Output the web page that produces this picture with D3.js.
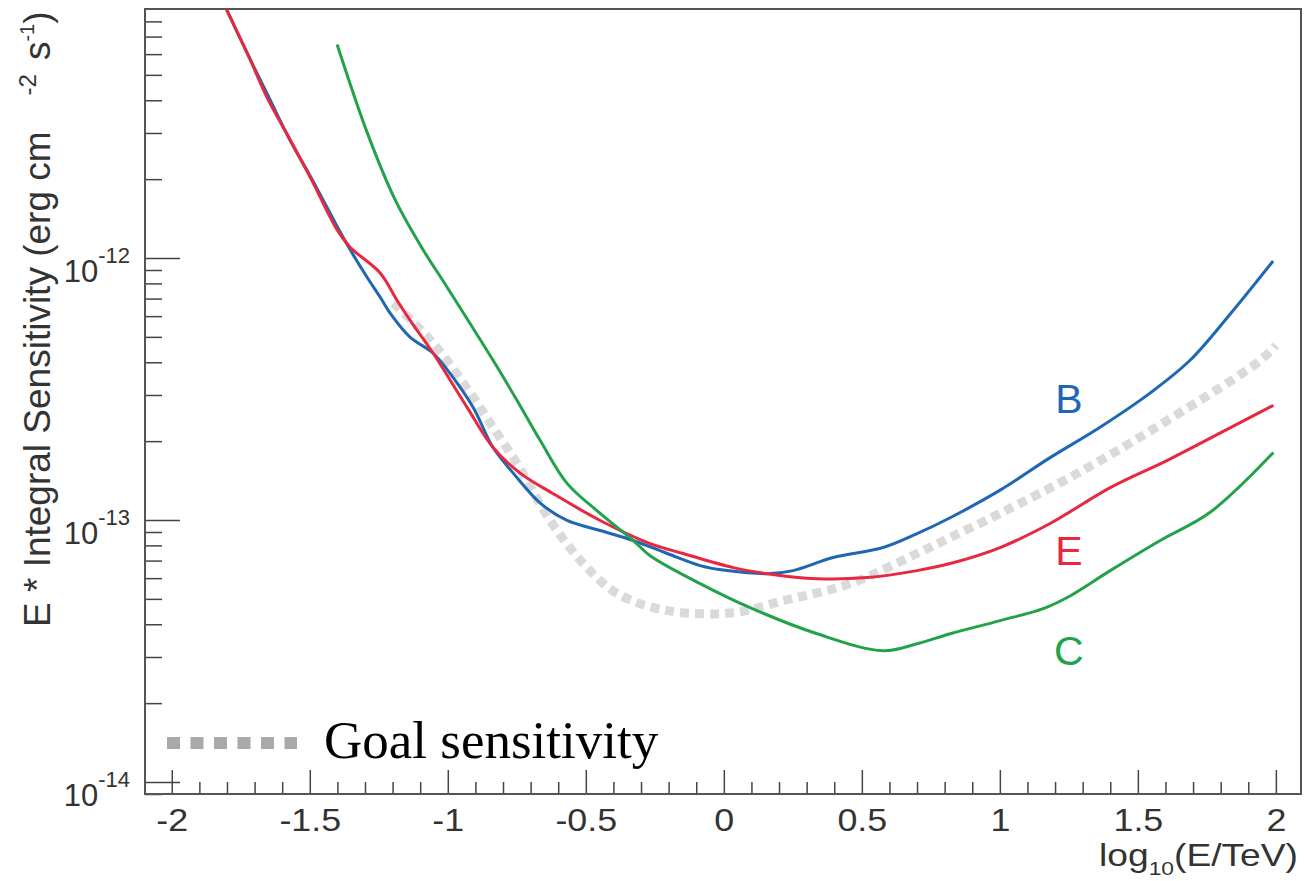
<!DOCTYPE html>
<html>
<head>
<meta charset="utf-8">
<script src="https://cdn.jsdelivr.net/npm/d3@7"></script>
<style>
body { margin: 0; background: #fff; }
svg { display: block; font-family: "Liberation Sans", Arial, Helvetica, sans-serif; }
</style>
</head>
<body>
<script>
// curve B (blue): log10(E/TeV) and E * integral sensitivity
var energyB = [-1.843, -1.803, -1.724, -1.644, -1.572, -1.492, -1.394, -1.343, -1.293, -1.238, -1.209, -1.137, -1.053, -0.992, -0.908, -0.836, -0.763, -0.665, -0.568, -0.448, -0.328, -0.205, -0.086, 0.012, 0.157, 0.251, 0.396, 0.577, 0.700, 0.820, 1.001, 1.182, 1.363, 1.544, 1.689, 1.834, 1.990];
var sensB = [1.11e-11, 8.95e-12, 5.97e-12, 4.02e-12, 2.82e-12, 2.00e-12, 1.28e-12, 1.03e-12, 8.46e-13, 6.90e-13, 6.16e-13, 4.99e-13, 4.33e-13, 3.63e-13, 2.69e-13, 1.89e-13, 1.51e-13, 1.16e-13, 9.96e-14, 9.12e-14, 8.35e-14, 7.45e-14, 6.70e-14, 6.41e-14, 6.24e-14, 6.41e-14, 7.19e-14, 7.85e-14, 8.87e-14, 1.02e-13, 1.30e-13, 1.73e-13, 2.26e-13, 3.05e-13, 4.07e-13, 6.10e-13, 9.74e-13];

// curve E (red)
var energyE = [-1.843, -1.803, -1.724, -1.651, -1.583, -1.495, -1.401, -1.354, -1.245, -1.184, -1.137, -1.053, -0.930, -0.836, -0.738, -0.618, -0.448, -0.267, -0.147, 0.034, 0.157, 0.338, 0.519, 0.700, 0.820, 1.001, 1.182, 1.400, 1.607, 1.799, 1.991];
var sensE = [1.11e-11, 8.95e-12, 5.97e-12, 4.02e-12, 2.98e-12, 2.00e-12, 1.28e-12, 1.10e-12, 8.77e-13, 6.90e-13, 5.79e-13, 4.33e-13, 2.69e-13, 1.89e-13, 1.51e-13, 1.26e-13, 9.96e-14, 8.13e-14, 7.45e-14, 6.58e-14, 6.24e-14, 5.97e-14, 6.03e-14, 6.41e-14, 6.82e-14, 7.85e-14, 9.70e-14, 1.33e-13, 1.69e-13, 2.15e-13, 2.74e-13];

// curve C (green)
var energyC = [-1.401, -1.292, -1.191, -1.093, -1.003, -0.836, -0.749, -0.665, -0.568, -0.448, -0.328, -0.267, -0.086, 0.095, 0.338, 0.577, 0.700, 0.820, 1.001, 1.157, 1.244, 1.400, 1.581, 1.762, 1.991];
var sensC = [6.53e-12, 3.01e-12, 1.67e-12, 1.09e-12, 7.75e-13, 4.07e-13, 2.86e-13, 2.01e-13, 1.38e-13, 1.06e-13, 8.35e-14, 7.31e-14, 5.72e-14, 4.63e-14, 3.68e-14, 3.17e-14, 3.37e-14, 3.68e-14, 4.13e-14, 4.59e-14, 5.06e-14, 6.41e-14, 8.35e-14, 1.07e-13, 1.81e-13];

// goal sensitivity (grey dotted)
var energyGoal = [-1.197, -1.053, -0.908, -0.846, -0.749, -0.629, -0.509, -0.386, -0.205, 0.034, 0.215, 0.458, 0.700, 0.820, 1.001, 1.302, 1.607, 1.944, 2.000];
var sensGoal = [6.73e-13, 4.73e-13, 2.94e-13, 2.34e-13, 1.64e-13, 9.96e-14, 6.82e-14, 5.24e-14, 4.51e-14, 4.43e-14, 4.92e-14, 5.72e-14, 7.45e-14, 8.57e-14, 1.06e-13, 1.55e-13, 2.40e-13, 4.07e-13, 4.65e-13];

// tick labels
var xMajorTicks = [-2, -1.5, -1, -0.5, 0, 0.5, 1, 1.5, 2];
var xTickLabels = ['-2', '-1.5', '-1', '-0.5', '0', '0.5', '1', '1.5', '2'];
var yMajorTicks = [1e-14, 1e-13, 1e-12];
var yTickExponents = ['-14', '-13', '-12'];
var curveNames = ['B', 'E', 'C'];
var legendText = 'Goal sensitivity';

var svgWidth = 1305;
var svgHeight = 881;
var plotLeft = 145, plotRight = 1301, plotTop = 9, plotBottom = 794;

var colorB = '#1f66b3', colorE = '#e8283f', colorC = '#22a34a';

var xScale = d3.scaleLinear()
    .domain([-2.097, 2.091])
    .range([plotLeft, plotRight]);

var yScale = d3.scaleLog()
    .domain([9.0e-15, 8.92e-12])
    .range([plotBottom, plotTop]);

var svg = d3.select('body').append('svg')
    .attr('width', svgWidth)
    .attr('height', svgHeight);

svg.append('defs').append('clipPath').attr('id', 'plotclip')
    .append('rect')
    .attr('x', plotLeft).attr('y', plotTop)
    .attr('width', plotRight - plotLeft).attr('height', plotBottom - plotTop);

// minor ticks every 0.1 on x, 2..9 per decade on y
var xMinor = d3.range(-20, 21).map(function(i) { return i / 10; })
    .filter(function(v) { return xMajorTicks.indexOf(v) < 0; });
var yMinor = [];
[1e-15, 1e-14, 1e-13, 1e-12].forEach(function(dec) {
    for (var k = 2; k <= 9; k++) {
        var v = k * dec;
        if (v > yScale.domain()[0] && v < yScale.domain()[1]) yMinor.push(v);
    }
});

var xAxisMinor = d3.axisBottom(xScale).tickValues(xMinor).tickSize(-12).tickSizeOuter(0).tickFormat('');
var xAxisMajor = d3.axisBottom(xScale).tickValues(xMajorTicks).tickSize(-24).tickSizeOuter(0).tickPadding(14)
    .tickFormat(function(d, i) { return xTickLabels[i]; });

var gxm = svg.append('g').attr('transform', 'translate(0,' + plotBottom + ')').call(xAxisMinor);
var gx = svg.append('g').attr('transform', 'translate(0,' + plotBottom + ')').call(xAxisMajor);

var yAxisMinor = d3.axisLeft(yScale).tickValues(yMinor).tickSize(-17).tickSizeOuter(0).tickFormat('');
var yAxisMajor = d3.axisLeft(yScale).tickValues(yMajorTicks).tickSize(-35).tickSizeOuter(0).tickPadding(15).tickFormat('');

var gym = svg.append('g').attr('transform', 'translate(' + plotLeft + ',0)').call(yAxisMinor);
var gy = svg.append('g').attr('transform', 'translate(' + plotLeft + ',0)').call(yAxisMajor);

[gxm, gx, gym, gy].forEach(function(g) {
    g.select('.domain').remove();
    g.selectAll('.tick line').attr('stroke', '#444').attr('stroke-width', 1.5);
});

gx.selectAll('.tick text')
    .attr('font-size', 32)
    .attr('fill', '#333')
    .attr('transform', 'scale(1.12,1)');

gy.selectAll('.tick text').each(function(d, i) {
    var t = d3.select(this);
    t.text(null).attr('dy', null).attr('y', 23)
        .attr('font-size', 31).attr('fill', '#333');
    t.append('tspan').text('10');
    t.append('tspan').attr('font-size', 22).attr('dy', -19).text(yTickExponents[i]);
});

// frame
svg.append('rect')
    .attr('x', plotLeft).attr('y', plotTop)
    .attr('width', plotRight - plotLeft).attr('height', plotBottom - plotTop)
    .attr('fill', 'none').attr('stroke', '#555').attr('stroke-width', 2);

var line = d3.line()
    .x(function(d) { return xScale(d[0]); })
    .y(function(d) { return yScale(d[1]); })
    .curve(d3.curveCatmullRom.alpha(0.5));

function pairs(xs, ys) { return xs.map(function(x, i) { return [x, ys[i]]; }); }

var plot = svg.append('g').attr('clip-path', 'url(#plotclip)');

plot.append('path')
    .datum(pairs(energyGoal, sensGoal))
    .attr('d', line)
    .attr('fill', 'none')
    .attr('stroke', '#dadada')
    .attr('stroke-width', 9)
    .attr('stroke-dasharray', '9,6');

plot.append('path').datum(pairs(energyB, sensB)).attr('d', line)
    .attr('fill', 'none').attr('stroke', colorB).attr('stroke-width', 3);
plot.append('path').datum(pairs(energyE, sensE)).attr('d', line)
    .attr('fill', 'none').attr('stroke', colorE).attr('stroke-width', 3);
plot.append('path').datum(pairs(energyC, sensC)).attr('d', line)
    .attr('fill', 'none').attr('stroke', colorC).attr('stroke-width', 3);

// curve labels
var labelAnchor = [[1.25, 2.55e-13], [1.25, 6.76e-14], [1.25, 2.80e-14]];
var labelColors = [colorB, colorE, colorC];
svg.selectAll('text.curvelabel')
    .data(curveNames)
    .enter()
    .append('text')
    .attr('class', 'curvelabel')
    .attr('x', function(d, i) { return xScale(labelAnchor[i][0]); })
    .attr('y', function(d, i) { return yScale(labelAnchor[i][1]); })
    .attr('text-anchor', 'middle')
    .attr('font-size', 41)
    .attr('fill', function(d, i) { return labelColors[i]; })
    .text(function(d) { return d; });

// legend
svg.append('line')
    .attr('x1', 167).attr('x2', 297).attr('y1', 743).attr('y2', 743)
    .attr('stroke', '#a9a9a9').attr('stroke-width', 12)
    .attr('stroke-dasharray', '13,10.5');
svg.append('text')
    .attr('x', 324).attr('y', 758)
    .attr('font-family', '"Liberation Serif", "Times New Roman", serif')
    .attr('font-size', 53)
    .attr('fill', '#000')
    .text(legendText);

// x axis title
var xt = svg.append('text')
    .attr('transform', 'translate(1298,866) scale(1.2,1)')
    .attr('text-anchor', 'end')
    .attr('font-size', 31)
    .attr('fill', '#333');
xt.append('tspan').text('log');
xt.append('tspan').attr('font-size', 19).attr('dy', 9).text('10');
xt.append('tspan').attr('dy', -9).text('(E/TeV)');

// y axis title
var yt = svg.append('text')
    .attr('transform', 'translate(50,627) rotate(-90)')
    .attr('font-size', 37)
    .attr('fill', '#333');
yt.append('tspan').text('E * Integral Sensitivity (erg cm');
yt.append('tspan').attr('font-size', 24).attr('dx', 36).attr('dy', -14).text('-2');
yt.append('tspan').attr('dx', 14).attr('dy', 14).text('s');
yt.append('tspan').attr('font-size', 20).attr('dy', -16).text('-1');
yt.append('tspan').attr('dy', 16).text(')');
</script>
</body>
</html>
